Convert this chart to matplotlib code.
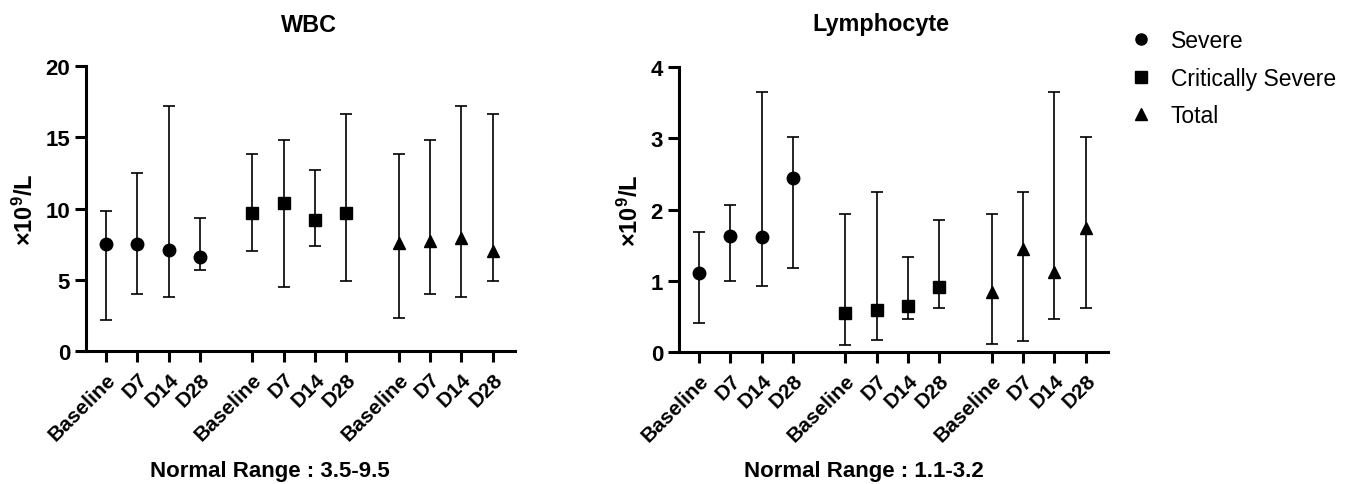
import numpy as np
import matplotlib
matplotlib.use("Agg")
import matplotlib.pyplot as plt

plt.rcParams['font.family'] = ['Liberation Sans', 'DejaVu Sans']
plt.rcParams['mathtext.fontset'] = 'custom'
plt.rcParams['mathtext.bf'] = 'Liberation Sans:bold'
plt.rcParams['mathtext.rm'] = 'Liberation Sans:bold'
plt.rcParams['mathtext.default'] = 'bf'

timepoints = ["Baseline", "D7", "D14", "D28"]
groups = ["Severe", "Critically Severe", "Total"]
markers = ["o", "s", "^"]
marker_sizes = [9, 8.5, 9]

# WBC (x10^9/L): centre value, lower and upper whisker
wbc_mid = [[7.5, 7.5, 7.1, 6.6], [9.7, 10.4, 9.2, 9.7], [7.6, 7.7, 7.9, 7.0]]
wbc_low = [[2.2, 4.0, 3.8, 5.7], [7.0, 4.5, 7.4, 4.9], [2.3, 4.0, 3.8, 4.9]]
wbc_high = [[9.8, 12.5, 17.2, 9.3], [13.8, 14.8, 12.7, 16.6], [13.8, 14.8, 17.2, 16.6]]

# Lymphocyte (x10^9/L)
lym_mid = [[1.11, 1.63, 1.61, 2.44], [0.55, 0.59, 0.65, 0.92], [0.84, 1.45, 1.12, 1.74]]
lym_low = [[0.41, 1.0, 0.93, 1.18], [0.10, 0.17, 0.46, 0.62], [0.11, 0.16, 0.46, 0.62]]
lym_high = [[1.69, 2.07, 3.65, 3.01], [1.94, 2.25, 1.34, 1.85], [1.94, 2.25, 3.65, 3.01]]

group_gap = 1.66
positions = [g * (len(timepoints) - 1 + group_gap) + np.arange(len(timepoints)) for g in range(len(groups))]

fig = plt.figure(figsize=(13.54, 4.85), dpi=100)
ax1 = fig.add_axes([0.0635, 0.2742, 0.3168, 0.5876])
ax2 = fig.add_axes([0.5015, 0.2715, 0.3168, 0.5889])


def draw_panel(ax, mid, low, high, ymax, step, label_x):
    for g in range(len(groups)):
        m = np.array(mid[g])
        err = [m - np.array(low[g]), np.array(high[g]) - m]
        ax.errorbar(positions[g], m, yerr=err, fmt=markers[g], color='black',
                    markersize=marker_sizes[g], ecolor='black', elinewidth=1.2,
                    capsize=4, capthick=1.2, label=groups[g])
    ax.set_ylim(0, ymax)
    ax.set_yticks(np.arange(0, ymax + step / 2, step))
    ax.set_xlim(-0.64, 13.03)
    ticks = np.concatenate(positions)
    ax.set_xticks(ticks)
    ax.set_xticklabels(timepoints * len(groups), rotation=45, ha='right',
                       rotation_mode='anchor', fontsize=15, fontweight='bold')
    ax.tick_params(axis='both', length=8, width=2.2)
    ax.tick_params(axis='y', labelsize=16)
    ax.tick_params(axis='x', pad=5)
    for lab in ax.get_yticklabels():
        lab.set_fontweight('bold')
    for s in ['top', 'right']:
        ax.spines[s].set_visible(False)
    for s in ['left', 'bottom']:
        ax.spines[s].set_linewidth(2.2)
    ax.set_ylabel('×10$^9$/L', fontsize=17, fontweight='bold')
    ax.yaxis.set_label_coords(label_x, 0.5)


draw_panel(ax1, wbc_mid, wbc_low, wbc_high, 20, 5, -0.112)
draw_panel(ax2, lym_mid, lym_low, lym_high, 4, 1, -0.084)

fig.text(309 / 1354, 1 - 25 / 485, 'WBC', ha='center', va='center', fontsize=16.8, fontweight='bold')
fig.text(881 / 1354, 1 - 25 / 485, 'Lymphocyte', ha='center', va='center', fontsize=16.8, fontweight='bold')
fig.text(270 / 1354, 1 - 472 / 485, 'Normal Range : 3.5-9.5', ha='center', va='center', fontsize=16, fontweight='bold')
fig.text(864 / 1354, 1 - 472 / 485, 'Normal Range : 1.1-3.2', ha='center', va='center', fontsize=16, fontweight='bold')

handles, labels = ax2.get_legend_handles_labels()
handles = [h[0] for h in handles]
leg = fig.legend(handles, labels, loc='upper left', bbox_to_anchor=(1118 / 1354, 1 - 19 / 485),
                 frameon=False, fontsize=16.5, handlelength=1.0, handletextpad=0.8,
                 labelspacing=0.62, borderpad=0)
for h in leg.legend_handles:
    h.set_markersize(8)

fig.savefig('out.png', dpi=100)
